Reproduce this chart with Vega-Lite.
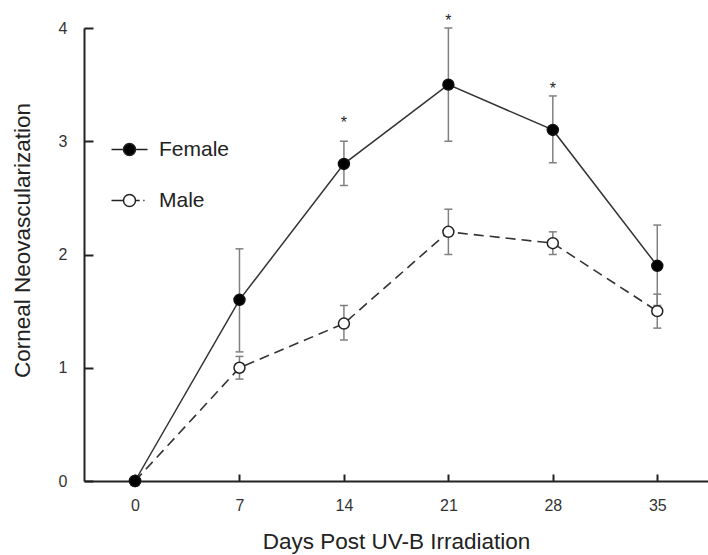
{
  "$schema": "https://vega.github.io/schema/vega-lite/v6.json",
  "width": 624,
  "height": 453,
  "autosize": {"type": "none"},
  "padding": {"left": 84, "top": 28, "right": 0, "bottom": 74},
  "background": "white",
  "config": {
    "view": {"stroke": null},
    "font": "Liberation Sans",
    "axis": {
      "grid": false,
      "domainColor": "#222",
      "domainWidth": 2,
      "tickColor": "#222",
      "tickWidth": 2,
      "labelFont": "Liberation Sans",
      "labelFontSize": 16,
      "labelColor": "#333",
      "titleFont": "Liberation Sans",
      "titleFontWeight": "normal",
      "titleColor": "#222"
    }
  },
  "data": {
    "values": [
      {"sex": "Female", "day": 0, "mean": 0, "lo": null, "hi": null, "star": null, "starY": null},
      {"sex": "Female", "day": 7, "mean": 1.6, "lo": 1.14, "hi": 2.05, "star": null, "starY": null},
      {"sex": "Female", "day": 14, "mean": 2.8, "lo": 2.61, "hi": 3.0, "star": "*", "starY": 3.2},
      {"sex": "Female", "day": 21, "mean": 3.5, "lo": 3.0, "hi": 4.0, "star": "*", "starY": 4.1},
      {"sex": "Female", "day": 28, "mean": 3.1, "lo": 2.81, "hi": 3.4, "star": "*", "starY": 3.5},
      {"sex": "Female", "day": 35, "mean": 1.9, "lo": 1.55, "hi": 2.26, "star": null, "starY": null},
      {"sex": "Male", "day": 0, "mean": 0, "lo": null, "hi": null, "star": null, "starY": null},
      {"sex": "Male", "day": 7, "mean": 1.0, "lo": 0.9, "hi": 1.1, "star": null, "starY": null},
      {"sex": "Male", "day": 14, "mean": 1.39, "lo": 1.245, "hi": 1.55, "star": null, "starY": null},
      {"sex": "Male", "day": 21, "mean": 2.2, "lo": 2.0, "hi": 2.4, "star": null, "starY": null},
      {"sex": "Male", "day": 28, "mean": 2.1, "lo": 2.0, "hi": 2.2, "star": null, "starY": null},
      {"sex": "Male", "day": 35, "mean": 1.5, "lo": 1.35, "hi": 1.65, "star": null, "starY": null}
    ]
  },
  "encoding": {
    "x": {
      "field": "day",
      "type": "quantitative",
      "scale": {"domain": [-3.42, 38.4], "nice": false, "zero": false},
      "axis": {
        "values": [0, 7, 14, 21, 28, 35],
        "tickSize": -7,
        "labelPadding": 23,
        "title": "Days Post UV-B Irradiation",
        "titleFontSize": 22.5,
        "titlePadding": 17
      }
    },
    "y": {
      "field": "mean",
      "type": "quantitative",
      "scale": {"domain": [0, 4], "nice": false},
      "axis": {
        "values": [0, 1, 2, 3, 4],
        "tickSize": -9,
        "labelPadding": 26,
        "title": "Corneal Neovascularization",
        "titleFontSize": 22.5,
        "titlePadding": 24,
        "titleY": 212
      }
    }
  },
  "layer": [
    {
      "mark": {"type": "rule", "color": "#808080", "strokeWidth": 1.5},
      "encoding": {
        "y": {"field": "lo", "type": "quantitative"},
        "y2": {"field": "hi"}
      }
    },
    {
      "mark": {"type": "tick", "orient": "horizontal", "color": "#808080", "size": 8, "thickness": 1.5, "opacity": 1},
      "encoding": {"y": {"field": "lo", "type": "quantitative"}}
    },
    {
      "mark": {"type": "tick", "orient": "horizontal", "color": "#808080", "size": 8, "thickness": 1.5, "opacity": 1},
      "encoding": {"y": {"field": "hi", "type": "quantitative"}}
    },
    {
      "transform": [{"filter": "datum.sex == 'Male'"}],
      "mark": {"type": "line", "color": "#333", "strokeWidth": 1.6, "strokeDash": [10, 6]},
      "encoding": {}
    },
    {
      "transform": [{"filter": "datum.sex == 'Female'"}],
      "mark": {"type": "line", "color": "#333", "strokeWidth": 1.5},
      "encoding": {}
    },
    {
      "transform": [{"filter": "datum.sex == 'Male'"}],
      "mark": {"type": "point", "shape": "circle", "filled": true, "fill": "#fff", "stroke": "#222", "strokeWidth": 1.5, "size": 120, "opacity": 1},
      "encoding": {}
    },
    {
      "transform": [{"filter": "datum.sex == 'Female'"}],
      "mark": {"type": "point", "shape": "circle", "filled": true, "fill": "#000", "stroke": "#111", "strokeWidth": 1.5, "size": 120, "opacity": 1},
      "encoding": {}
    },
    {
      "transform": [{"filter": "datum.star != null"}],
      "mark": {"type": "text", "fontSize": 16, "color": "#222", "baseline": "middle", "dy": 4},
      "encoding": {
        "y": {"field": "starY", "type": "quantitative"},
        "text": {"field": "star"}
      }
    },
    {
      "transform": [{"filter": "datum.sex == 'none'"}],
      "mark": {"type": "point", "filled": true, "stroke": "#222", "strokeWidth": 1.5, "size": 144, "opacity": 1},
      "encoding": {
        "shape": {
          "field": "sex",
          "type": "nominal",
          "scale": {
            "domain": ["Female", "Male"],
            "range": [
              "M-3,0L-1,0M1,0L3,0M-1,0A1,1,0,1,1,1,0A1,1,0,1,1,-1,0Z",
              "M-3,0L-1,0M1,0L1.7,0M2.3,0L2.5,0M-1,0A1,1,0,1,1,1,0A1,1,0,1,1,-1,0Z"
            ]
          },
          "legend": {
            "orient": "none",
            "legendX": 35,
            "legendY": 111,
            "title": null,
            "labelFontSize": 21,
            "labelColor": "#222",
            "labelOffset": 19,
            "rowPadding": 29,
            "symbolSize": 144
          }
        },
        "fill": {
          "field": "sex",
          "type": "nominal",
          "scale": {"domain": ["Female", "Male"], "range": ["#000000", "#ffffff"]},
          "legend": {
            "orient": "none",
            "legendX": 35,
            "legendY": 111,
            "title": null,
            "labelFontSize": 21,
            "labelColor": "#222",
            "labelOffset": 19,
            "rowPadding": 29,
            "symbolSize": 144
          }
        }
      }
    }
  ]
}
